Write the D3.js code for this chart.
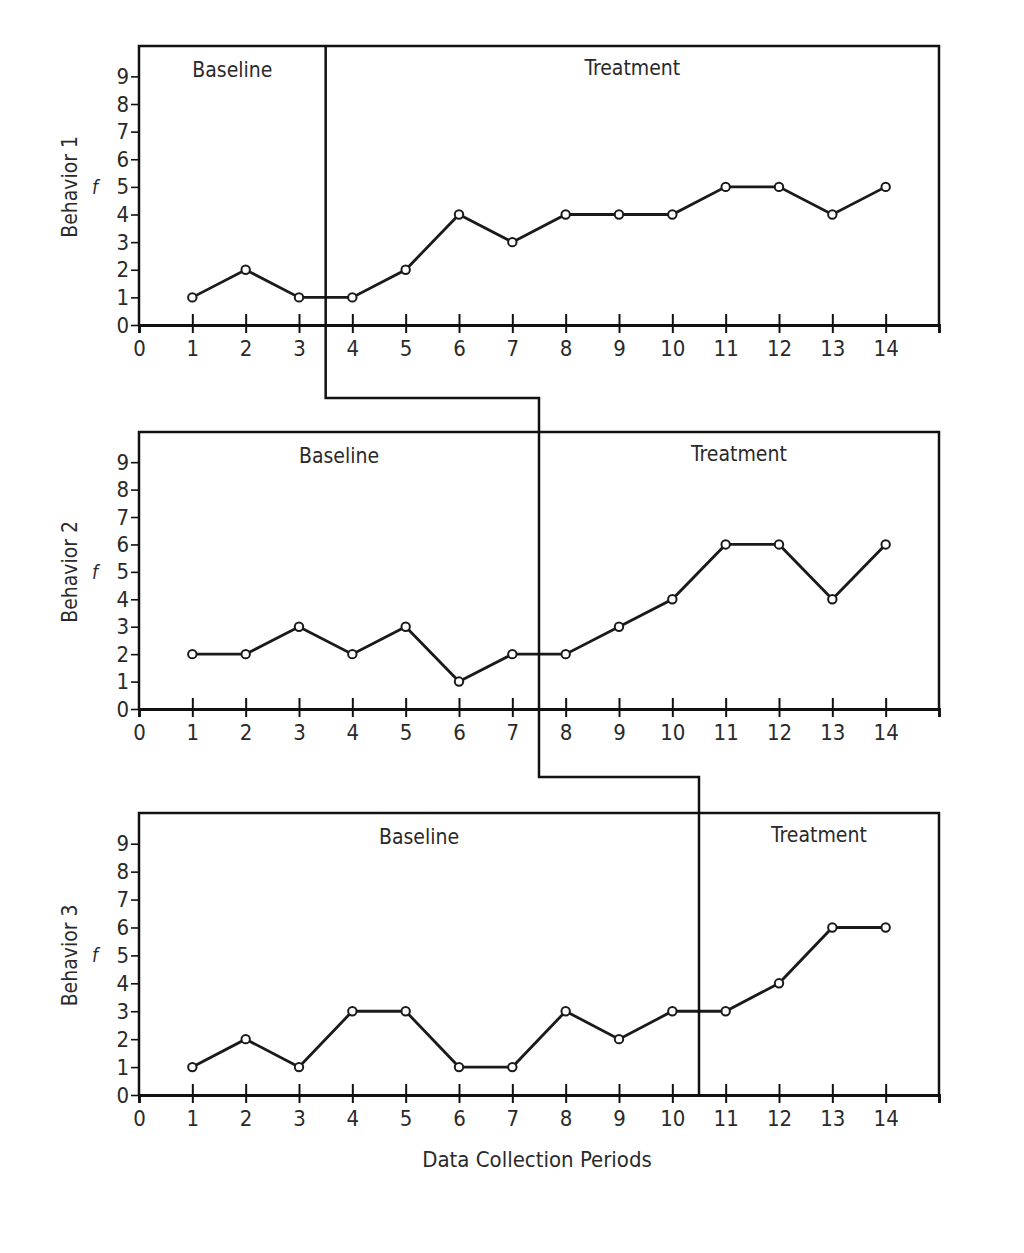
<!DOCTYPE html>
<html>
<head>
<meta charset="utf-8">
<script src="https://cdn.jsdelivr.net/npm/d3@7"></script>
<style>
	body { margin: 0; background: #fff; }
	svg text { font-family: "DejaVu Sans Condensed", "Liberation Sans Narrow", "Open Sans", sans-serif; font-stretch: condensed; fill: #2a2a2a; }
</style>
</head>
<body>
<div id="chart"></div>
<script>
// ---------- DATA ----------
const periods = [1, 2, 3, 4, 5, 6, 7, 8, 9, 10, 11, 12, 13, 14];
const behaviorNames = ["Behavior 1", "Behavior 2", "Behavior 3"];
const behavior1 = [1, 2, 1, 1, 2, 4, 3, 4, 4, 4, 5, 5, 4, 5];
const behavior2 = [2, 2, 3, 2, 3, 1, 2, 2, 3, 4, 6, 6, 4, 6];
const behavior3 = [1, 2, 1, 3, 3, 1, 1, 3, 2, 3, 3, 4, 6, 6];
// treatment starts between these periods
const phaseChanges = [3.5, 7.5, 10.5];
const phaseLabels = ["Baseline", "Treatment"];
const xTicks = [0, 1, 2, 3, 4, 5, 6, 7, 8, 9, 10, 11, 12, 13, 14, 15];
const yTicks = [0, 1, 2, 3, 4, 5, 6, 7, 8, 9];
const xTitle = "Data Collection Periods";
const series = [behavior1, behavior2, behavior3];

// ---------- LAYOUT ----------
const size = { w: 1024, h: 1253 };
const plot = { left: 139, right: 939 };
// top of box / x-axis line for each panel
const panels = [
	{ top: 46, bottom: 325 },
	{ top: 432, bottom: 709 },
	{ top: 813, bottom: 1095 },
];
const connectorDrop = [73, 68];

const svg = d3
	.select("#chart")
	.append("svg")
	.attr("width", size.w)
	.attr("height", size.h);

const x = d3.scaleLinear().domain([0, 15]).range([plot.left, plot.right]);

panels.forEach((p, i) => {
	const g = svg.append("g").classed(`panel__${i}`, true);
	const y = d3
		.scaleLinear()
		.domain([0, 10.1])
		.range([p.bottom, p.top]);

	// box (top, left, right)
	g.append("path")
		.attr("d", `M${plot.left},${p.bottom}V${p.top}H${plot.right}V${p.bottom}`)
		.attr("fill", "none")
		.attr("stroke", "#111")
		.attr("stroke-width", 2.5);

	// x axis
	const xAxis = g
		.append("g")
		.attr("transform", `translate(0, ${p.bottom})`)
		.call(
			d3
				.axisBottom(x)
				.tickValues(xTicks)
				.tickSize(8)
				.tickPadding(7)
				.tickFormat((d) => (d === 15 ? "" : d))
		);
	xAxis.select(".domain").attr("stroke", "#111").attr("stroke-width", 2.8);
	xAxis
		.selectAll(".tick line")
		.attr("stroke", "#111")
		.attr("stroke-width", 2)
		.attr("y1", (d) => (d === 0 || d === 15 ? 0 : -11));
	xAxis.selectAll(".tick text").attr("font-size", 22).attr("fill", "#2a2a2a");

	// y axis
	const yAxis = g
		.append("g")
		.attr("transform", `translate(${plot.left}, 0)`)
		.call(d3.axisLeft(y).tickValues(yTicks).tickSize(8).tickPadding(2));
	yAxis.select(".domain").remove();
	yAxis.selectAll(".tick line").attr("stroke", "#111").attr("stroke-width", 1.6);
	yAxis.selectAll(".tick text").attr("font-size", 22).attr("fill", "#2a2a2a");

	// axis label
	const labelY = y(5);
	g.append("text")
		.attr("transform", `translate(77, ${labelY}) rotate(-90)`)
		.attr("text-anchor", "middle")
		.attr("font-size", 21)
		.text(behaviorNames[i]);
	g.append("text")
		.attr("x", 95)
		.attr("y", labelY + 7)
		.attr("text-anchor", "middle")
		.attr("font-size", 19)
		.attr("font-style", "italic")
		.text("f");

	// phase labels
	const split = x(phaseChanges[i]);
	g.append("text")
		.attr("x", (plot.left + split) / 2)
		.attr("y", p.top + 31)
		.attr("text-anchor", "middle")
		.attr("font-size", 21)
		.text(phaseLabels[0]);
	g.append("text")
		.attr("x", (split + plot.right) / 2)
		.attr("y", p.top + 29)
		.attr("text-anchor", "middle")
		.attr("font-size", 21)
		.text(phaseLabels[1]);

	// data line
	const pts = periods.map((d, k) => [d, series[i][k]]);
	g.append("path")
		.datum(pts)
		.attr("fill", "none")
		.attr("stroke", "#1a1a1a")
		.attr("stroke-width", 2.8)
		.attr(
			"d",
			d3
				.line()
				.x((d) => x(d[0]))
				.y((d) => y(d[1]))
		);
	g.selectAll("circle")
		.data(pts)
		.enter()
		.append("circle")
		.attr("cx", (d) => x(d[0]))
		.attr("cy", (d) => y(d[1]))
		.attr("r", 4.2)
		.attr("fill", "#fff")
		.attr("stroke", "#1a1a1a")
		.attr("stroke-width", 2);
});

// staircase phase-change line
let step = `M${x(phaseChanges[0])},${panels[0].top}`;
phaseChanges.forEach((c, i) => {
	if (i < phaseChanges.length - 1) {
		const yy = panels[i].bottom + connectorDrop[i];
		step += `V${yy}H${x(phaseChanges[i + 1])}`;
	} else {
		step += `V${panels[i].bottom}`;
	}
});
svg.append("path")
	.attr("d", step)
	.attr("fill", "none")
	.attr("stroke", "#111")
	.attr("stroke-width", 2.5);

// x title
svg.append("text")
	.attr("x", (plot.left + plot.right) / 2 - 2)
	.attr("y", panels[2].bottom + 72)
	.attr("text-anchor", "middle")
	.attr("font-size", 22)
	.text(xTitle);
</script>
</body>
</html>
